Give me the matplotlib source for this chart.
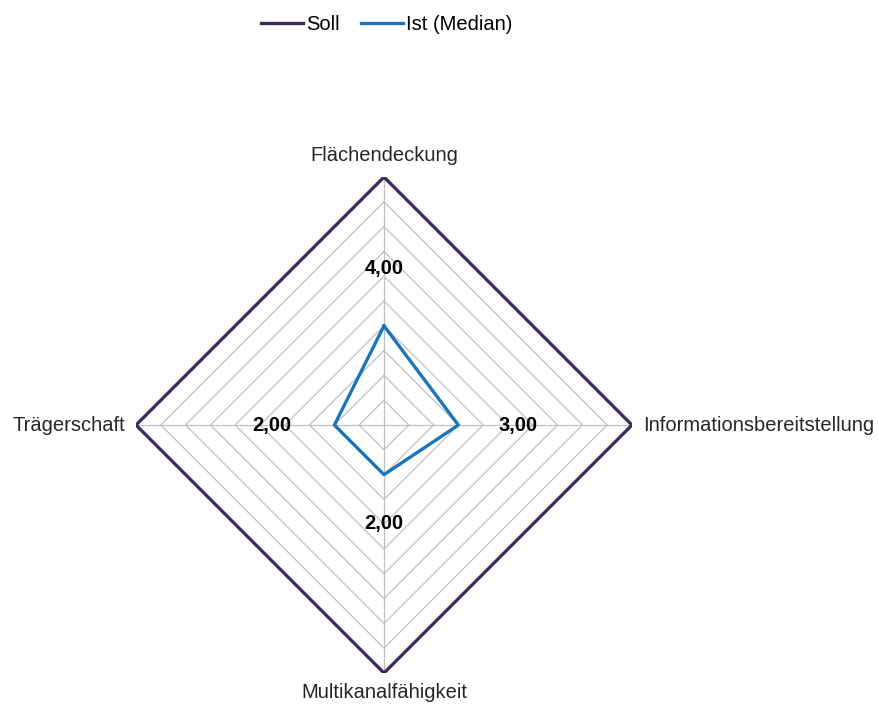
import numpy as np
import matplotlib
matplotlib.use('Agg')
import matplotlib.pyplot as plt

# data
categories = ['Flächendeckung', 'Informationsbereitstellung',
              'Multikanalfähigkeit', 'Trägerschaft']
soll = [10, 10, 10, 10]
ist = [4, 3, 2, 2]
value_labels = ['4,00', '3,00', '2,00', '2,00']
rings = [1, 2, 3, 4, 5, 6, 7, 8, 9, 10]

plt.rcParams['font.family'] = ['Liberation Sans', 'DejaVu Sans']

fig = plt.figure(figsize=(8.79, 7.06), dpi=100)
ax = fig.add_axes([0.1547, 0.0467, 0.5643, 0.7025], projection='polar')
ax.set_theta_offset(np.pi / 2)
ax.set_theta_direction(-1)
ax.set_ylim(0, 10)
ax.grid(False)
ax.spines['polar'].set_visible(False)
ax.set_xticks([])
ax.set_yticks([])
ax.patch.set_visible(False)

n = len(categories)
angles = np.linspace(0, 2 * np.pi, n, endpoint=False)
closed = np.concatenate([angles, angles[:1]])

# polygon grid
for r in rings:
    ax.plot(closed, [r] * (n + 1), color='#c0c0c0', lw=0.9, zorder=1)
for a in angles:
    ax.plot([a, a], [0, 10], color='#c0c0c0', lw=0.9, zorder=1)

# series
ax.plot(closed, soll + soll[:1], color='#3d2b5e', lw=2.4, label='Soll', zorder=3)
ax.plot(closed, ist + ist[:1], color='#1b75bc', lw=2.4, label='Ist (Median)', zorder=4)

# data labels
offsets = [(0, 41), (43, 0), (0, -35), (-45, 0)]
for a, v, txt, off in zip(angles, ist, value_labels, offsets):
    ax.annotate(txt, (a, v), xytext=off, textcoords='offset points',
                ha='center', va='center', fontsize=14.5, fontweight='bold', zorder=5)

# category labels
lab = [((0, 10), (0, 9), 'center', 'bottom'),
       ((angles[1], 10), (8, 0), 'left', 'center'),
       ((angles[2], 10), (0, -7), 'center', 'top'),
       ((angles[3], 10), (-8, 0), 'right', 'center')]
for cat, (xy, off, ha, va) in zip(categories, lab):
    ax.annotate(cat, xy, xytext=off, textcoords='offset points',
                ha=ha, va=va, fontsize=14.5, color='#262626', annotation_clip=False)

fig.legend(loc='upper center', bbox_to_anchor=(0.44, 1.005), ncol=2,
           frameon=False, fontsize=14.5, handlelength=2.1, handletextpad=0.15,
           columnspacing=1.05)

fig.savefig('out.png', dpi=100)
